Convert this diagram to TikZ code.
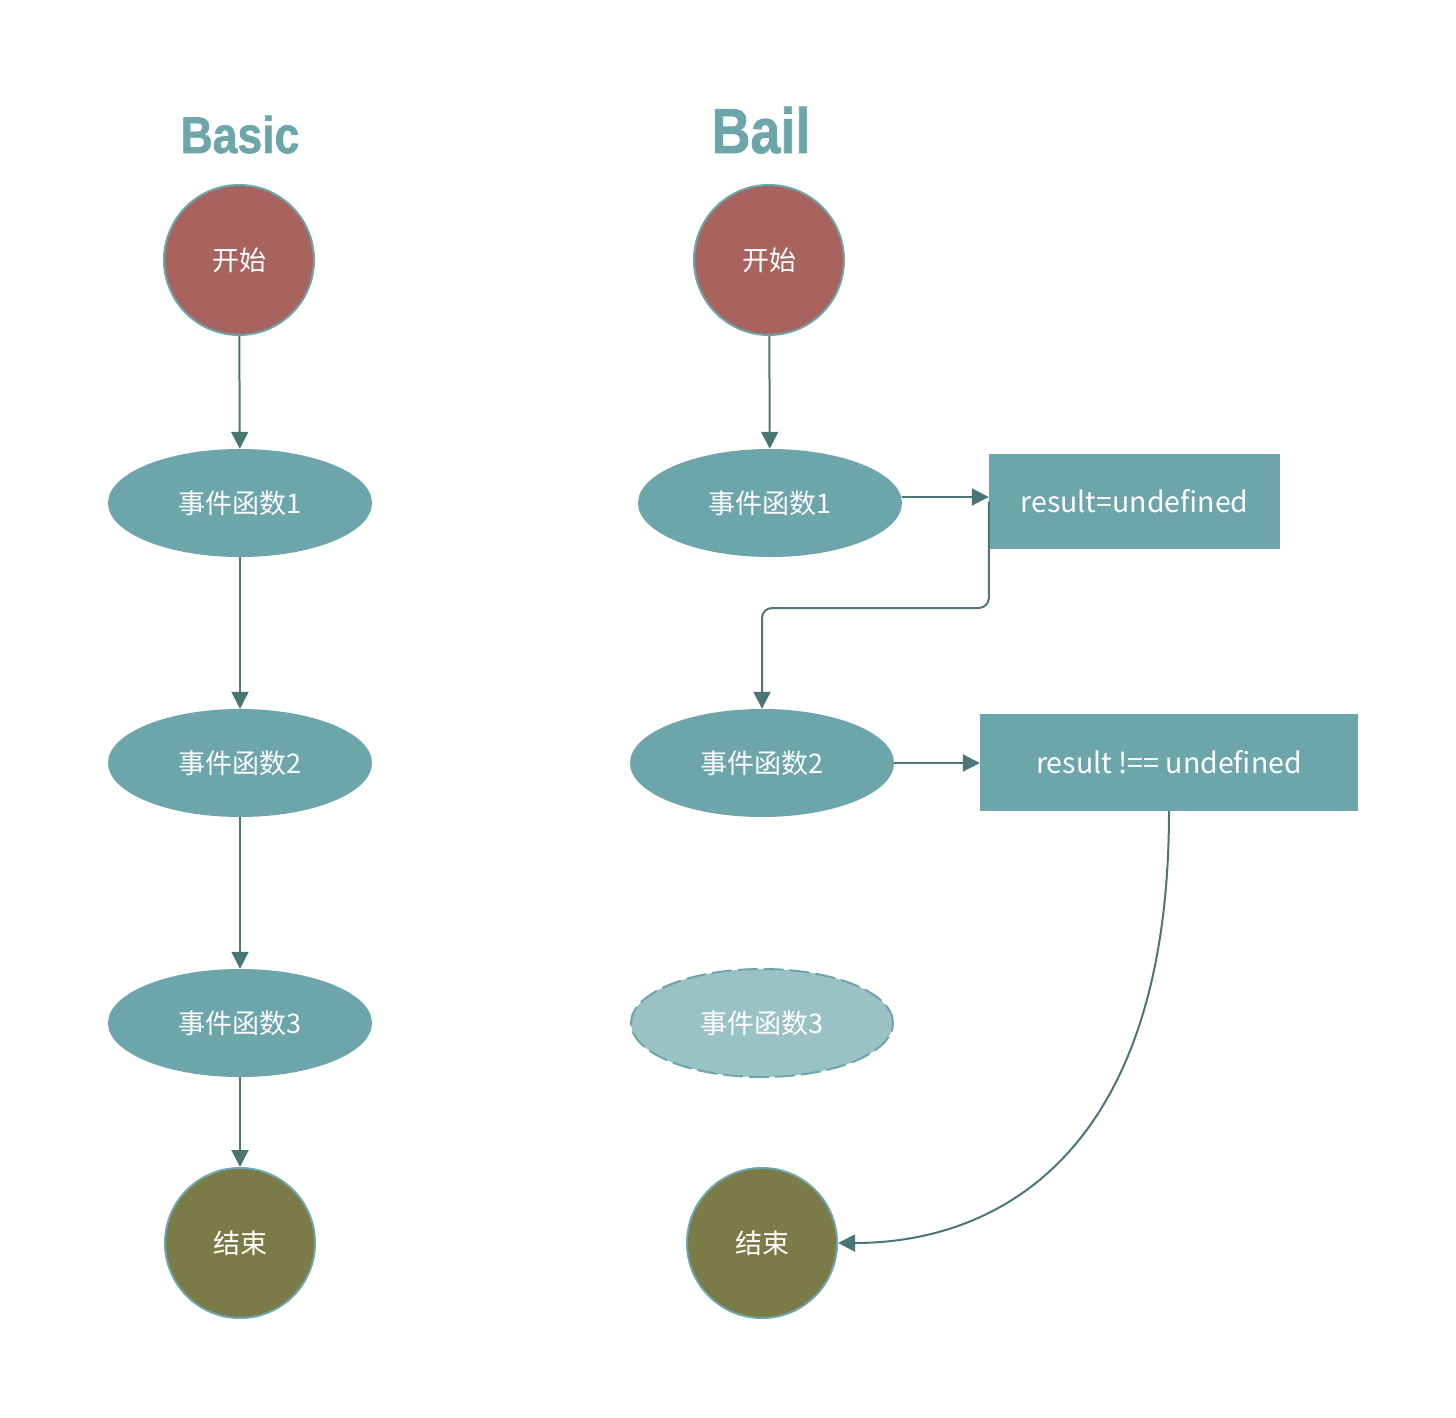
\documentclass[tikz,border=0pt]{standalone}
\usepackage{fontspec}
\usetikzlibrary{shapes.geometric,arrows.meta,calc}
\newfontfamily\cjk{Noto Sans CJK SC}
\newfontfamily\titlefont[FakeBold=1.3]{Liberation Sans}
\definecolor{tealfill}{HTML}{6CA5AA}
\definecolor{tealpale}{HTML}{9AC1C4}
\definecolor{startred}{HTML}{A8635F}
\definecolor{endolive}{HTML}{7A7B46}
\definecolor{linkcol}{HTML}{4A7678}
\begin{document}
\begin{tikzpicture}[x=1pt,y=-1pt,
  lbl/.style={text=white,font=\cjk\fontsize{27}{30}\selectfont,inner sep=0pt},
  latinlbl/.style={text=white,font=\cjk\fontsize{28.5}{32}\selectfont,inner sep=0pt},
  terminal/.style={lbl,circle,minimum size=150pt,draw=tealfill,line width=2pt},
  startnode/.style={terminal,fill=startred},
  endnode/.style={terminal,fill=endolive},
  handler/.style={lbl,ellipse,minimum width=264pt,minimum height=108pt,fill=tealfill},
  skipped/.style={lbl,ellipse,minimum width=262pt,minimum height=108pt,fill=tealpale,draw=tealfill,line width=2pt,dash pattern=on 20pt off 6pt},
  result/.style={latinlbl,rectangle,fill=tealfill},
  heading/.style={text=tealfill,inner sep=0pt,anchor=base},
  link/.style={draw=linkcol,line width=2pt,-{Triangle[length=17pt,width=17pt]}}
]
\useasboundingbox (0,0) rectangle (1456,1418);

% titles
\node[heading,font=\titlefont\bfseries\fontsize{50}{60}\selectfont] (tbasic) at (240,153) {\scalebox{0.89}[1.03]{Basic}};
\node[heading,font=\titlefont\bfseries\fontsize{60}{70}\selectfont] (tbail) at (761,153) {\scalebox{0.9}[1.06]{Bail}};

% Basic column
\node[startnode] (s1) at (239,260) {开始};
\node[handler] (b1) at (240,503) {事件函数1};
\node[handler] (b2) at (240,763) {事件函数2};
\node[handler] (b3) at (240,1023) {事件函数3};
\node[endnode] (e1) at (240,1243) {结束};

\draw[link] (s1) -- (b1);
\draw[link] (b1) -- (b2);
\draw[link] (b2) -- (b3);
\draw[link] (b3) -- (e1);

% Bail column
\node[startnode] (s2) at (769,260) {开始};
\node[handler] (h1) at (770,503) {事件函数1};
\node[handler] (h2) at (762,763) {事件函数2};
\node[skipped] (h3) at (762,1023) {事件函数3};
\node[endnode] (e2) at (762,1243) {结束};
\node[result,minimum width=291pt,minimum height=95pt] (r1) at (1134.5,501.5) {result=undefined};
\node[result,minimum width=378pt,minimum height=97pt] (r2) at (1169,762.5) {result !== undefined};

\coordinate (a1) at ($(r1.west)+(0,-4.5)$);
\draw[link] (s2) -- (h1);
\draw[link] (h1.east |- a1) -- (a1);
\draw[link,rounded corners=10pt] (r1.west) -- ++(0,106.5) -| (h2.north);
\draw[link] (h2.east) -- (h2.east -| r2.west);
\draw[link] (r2.south) .. controls +(0,339) and +(163,0) .. (e2.east);
\end{tikzpicture}
\end{document}
